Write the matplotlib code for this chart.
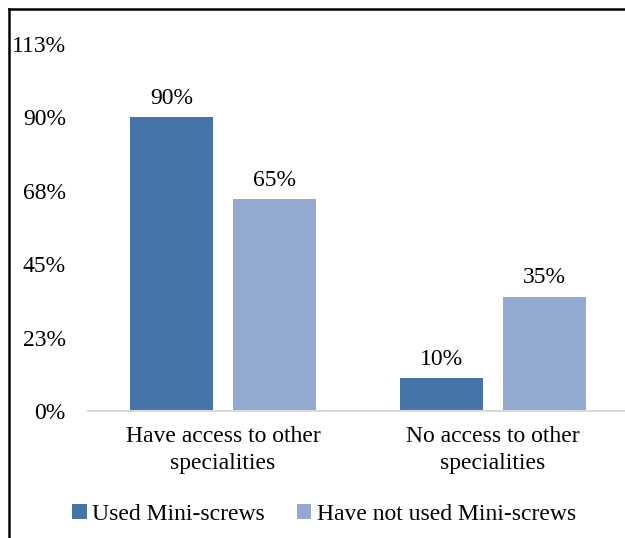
import matplotlib

matplotlib.use("Agg")

import matplotlib.pyplot as plt  # noqa: E402
import numpy as np  # noqa: E402
from matplotlib.lines import Line2D  # noqa: E402

categories = ["Have access to other\nspecialities", "No access to other\nspecialities"]
series_names = ["Used Mini-screws", "Have not used Mini-screws"]
used = [90, 10]
not_used = [65, 35]
y_ticks = [0, 22.5, 45, 67.5, 90, 112.5]
y_tick_labels = ["0%", "23%", "45%", "68%", "90%", "113%"]

colors = ["#4674A8", "#95AAD1"]
FS = 17

plt.rcParams["font.family"] = ["Liberation Serif", "DejaVu Serif"]

fig = plt.figure(figsize=(6.25, 5.38), dpi=100)
ax = fig.add_axes([88 / 625, 1 - 411 / 538, 1 - 88 / 625, (411 - 44) / 538])

x = np.arange(len(categories))
width = 0.307
offset = 0.19
bars_a = ax.bar(x - offset, used, width, color=colors[0], label=series_names[0])
bars_b = ax.bar(x + offset, not_used, width, color=colors[1], label=series_names[1])

for bars, vals in ((bars_a, used), (bars_b, not_used)):
    for bar, v in zip(bars, vals):
        ax.annotate(f"{v}%", (bar.get_x() + bar.get_width() / 2, v),
                    xytext=(0, 6), textcoords="offset points",
                    ha="center", va="bottom", fontsize=FS)

ax.set_xlim(-0.5, (625 - 223) / 270)
ax.set_ylim(0, 112.5)
ax.set_yticks(y_ticks)
ax.set_yticklabels(y_tick_labels)
ax.set_xticks(x)
ax.set_xticklabels(categories, linespacing=1.35)
ax.tick_params(axis="y", length=0, pad=16, labelsize=FS)
ax.tick_params(axis="x", length=0, pad=11, labelsize=FS)
for side in ("top", "right", "left"):
    ax.spines[side].set_visible(False)
ax.spines["bottom"].set_color("#D9D9D9")
ax.spines["bottom"].set_linewidth(1.5)

fig.legend(handles=[bars_a, bars_b], labels=series_names, loc="center",
           bbox_to_anchor=(0.519, 1 - 514 / 538), ncol=2, frameon=False,
           fontsize=FS, handlelength=0.6, handleheight=0.6,
           handletextpad=0.25, columnspacing=1.35)

# outer border (only left and top visible in the crop)
fig.add_artist(Line2D([9 / 625, 9 / 625], [0, 1 - 9 / 538], color="black", lw=1.8,
                      transform=fig.transFigure))
fig.add_artist(Line2D([9 / 625, 1], [1 - 9 / 538, 1 - 9 / 538], color="black", lw=1.8,
                      transform=fig.transFigure))

fig.savefig("out.png", dpi=100)
